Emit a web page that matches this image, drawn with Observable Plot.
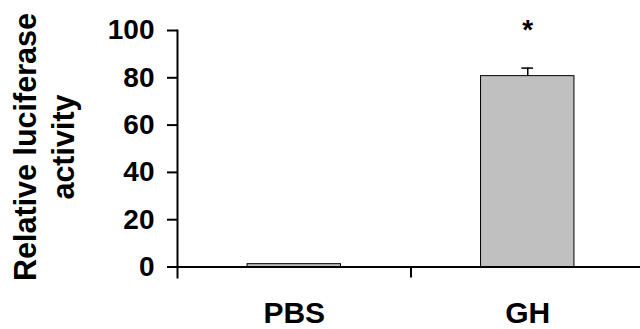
<!DOCTYPE html>
<html>
<head>
<meta charset="utf-8">
<script src="https://cdn.jsdelivr.net/npm/d3@7"></script>
<script src="https://cdn.jsdelivr.net/npm/@observablehq/plot@0.6"></script>
<style>
  html, body { margin: 0; padding: 0; background: #fff; }
  #chart svg { display: block; font-family: "Liberation Sans", Arial, sans-serif; }
</style>
</head>
<body>
<div id="chart"></div>
<script>
const categories = ["PBS", "GH"];
const values = [1.2, 80.7];
const errors = [0, 3.4];
const marks = ["", "*"];
const yTicks = [0, 20, 40, 60, 80, 100];
const yLabel = "Relative luciferase\nactivity";

const data = categories.map((c, i) => ({i, c, v: values[i], e: errors[i], m: marks[i]}));
const withErr = data.filter(d => d.e > 0);
const withMark = data.filter(d => d.m);

const chart = Plot.plot({
  width: 640,
  height: 329,
  marginTop: 30,
  marginBottom: 52,
  marginLeft: 177,
  marginRight: 0,
  x: {domain: [0, categories.length], range: [177, 644]},
  y: {domain: [0, 100], range: [266.5, 30]},
  style: {fontFamily: "Liberation Sans, Arial, sans-serif", color: "#000", background: "#fff"},
  marks: [
    Plot.rectY(data, {x1: d => d.i + 0.3, x2: d => d.i + 0.7, y1: 0, y2: "v", fill: "#c0c0c0", stroke: "#000", strokeWidth: 1}),
    Plot.ruleX(withErr, {x: d => d.i + 0.5, y1: "v", y2: d => d.v + d.e, stroke: "#000", strokeWidth: 1.5}),
    Plot.ruleY(withErr, {y: d => d.v + d.e, x1: d => d.i + 0.475, x2: d => d.i + 0.525, stroke: "#000", strokeWidth: 1.5}),
    Plot.text(withMark, {x: d => d.i + 0.5, y: d => d.v + d.e, text: "m", dy: -38, fontSize: 28, fontWeight: "bold", fill: "#000"}),
    Plot.ruleY([0], {stroke: "#000", strokeWidth: 2}),
    Plot.frame({anchor: "left", stroke: "#000", strokeWidth: 2}),
    Plot.ruleX([1], {y1: 0, y2: 0, insetBottom: -11, stroke: "#000", strokeWidth: 2}),
    Plot.axisY({ticks: yTicks, tickSize: 10, tickPadding: 13, strokeWidth: 2, fontSize: 28, fontWeight: "bold", label: null, tickFormat: d => String(d)}),
    Plot.axisX({ticks: categories.map((c, i) => i + 0.5), tickFormat: t => categories[Math.floor(t)], tickSize: 0, tickPadding: 24, fontSize: 30, fontWeight: "bold", label: null}),
    Plot.text([yLabel], {text: d => d, frameAnchor: "left", textAnchor: "middle", lineAnchor: "middle", rotate: -90, dx: -135, dy: -7, fontSize: 30.5, fontWeight: "bold", lineHeight: 1.27, fill: "#000"})
  ]
});
document.getElementById("chart").appendChild(chart);
</script>
</body>
</html>
